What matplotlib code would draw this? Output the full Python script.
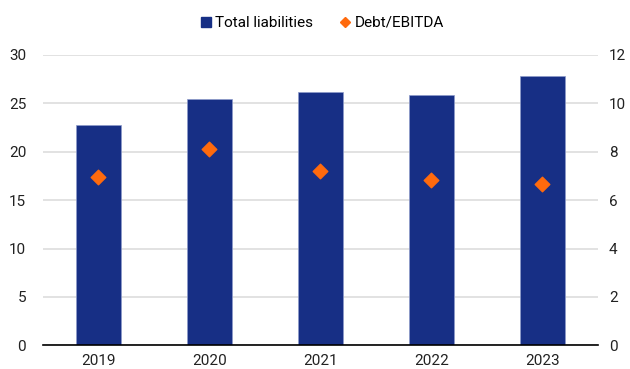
import matplotlib
matplotlib.use("Agg")
import matplotlib.pyplot as plt
from matplotlib.lines import Line2D

plt.rcParams['font.family'] = ['Roboto', 'DejaVu Sans']

years = ["2019", "2020", "2021", "2022", "2023"]
total_liabilities = [22.8, 25.4, 26.2, 25.9, 27.8]
debt_ebitda = [6.95, 8.1, 7.2, 6.85, 6.65]

navy = "#172F85"
orange = "#FF6A0D"

fig = plt.figure(figsize=(6.3, 3.69), dpi=100)
ax = fig.add_axes([0.068, 0.0642, 0.881, 0.787])
ax2 = ax.twinx()

x = list(range(len(years)))
ax.bar(x, total_liabilities, width=0.4, color=navy, edgecolor="#8E9BCB", linewidth=0.5, zorder=2)
ax2.scatter(x, debt_ebitda, marker="D", s=55, color=orange, zorder=3)

ax.set_xlim(-0.5, 4.5)
ax.set_ylim(0, 30)
ax2.set_ylim(0, 12)
ax.set_yticks([0, 5, 10, 15, 20, 25, 30])
ax2.set_yticks([0, 2, 4, 6, 8, 10, 12])
ax.set_xticks(x)
ax.set_xticklabels(years)

for a in (ax, ax2):
    for s in ("top", "right", "left", "bottom"):
        a.spines[s].set_visible(False)
    a.tick_params(length=0, labelsize=11, colors="#222222")
ax.spines["bottom"].set_visible(True)
ax.spines["bottom"].set_color("black")
ax.spines["bottom"].set_linewidth(1.2)
ax.spines["bottom"].set_zorder(5)
ax.tick_params(axis="y", pad=12)
ax2.tick_params(axis="y", pad=8)
ax.tick_params(axis="x", pad=6)

ax.grid(axis="y", color="#DDDDDD", linewidth=1.2, zorder=0)
ax.set_axisbelow(True)
ax.set_zorder(1)
ax2.set_zorder(2)
ax2.patch.set_visible(False)

handles = [
    Line2D([0], [0], marker="s", linestyle="none", color=navy, markersize=7),
    Line2D([0], [0], marker="D", linestyle="none", color=orange, markersize=5),
]
fig.legend(handles, ["Total liabilities", "Debt/EBITDA"], loc="center",
           bbox_to_anchor=(0.51, 0.938), ncol=2, frameon=False, fontsize=11,
           handletextpad=0.1, columnspacing=1.6, handlelength=1.0)

fig.savefig("out.png", dpi=100)
